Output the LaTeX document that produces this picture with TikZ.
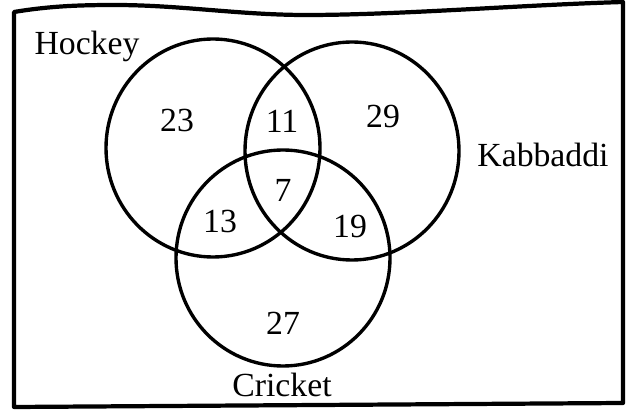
\documentclass[tikz,border=0pt]{standalone}
\usepackage{fontspec}
\setmainfont{Liberation Serif}
\usepackage{tikz}
\usetikzlibrary{calc}

\begin{document}
\begin{tikzpicture}[x=0.025cm, y=-0.025cm,
    set/.style={line width=2.4pt},
    lbl/.style={font=\fontsize{24}{28}\selectfont, anchor=base, inner sep=0pt}]
  \useasboundingbox (0,0) rectangle (640,412);
  \fill[white] (0,0) rectangle (640,412);

  % frame
  \draw[line width=3pt, line join=round]
    (14,12) .. controls (50,6) and (80,5) .. (115,5)
    .. controls (180,5) and (240,15) .. (306,15)
    .. controls (400,15) and (520,5) .. (623,2)
    -- (623,403) -- (14,407) -- cycle;

  % sets
  \draw[set] (213,148) ellipse [x radius=107, y radius=109];
  \draw[set] (352,151) ellipse [x radius=107, y radius=109];
  \draw[set] (283,258) ellipse [x radius=107, y radius=108];

  % set names
  \node[lbl] (hockey) at (87,55) {Hockey};
  \node[lbl] (kabbaddi) at (543,167) {Kabbaddi};
  \node[lbl] (cricket) at (282,397) {Cricket};

  % counts
  \foreach \x/\y/\v in {177/132/23, 282/133/11, 383/128/29, 283/202/7,
                        220/233/13, 350/238/19, 283/335/27} {
      \node[lbl] (n\v) at (\x,\y) {\v};
    }
\end{tikzpicture}
\end{document}
